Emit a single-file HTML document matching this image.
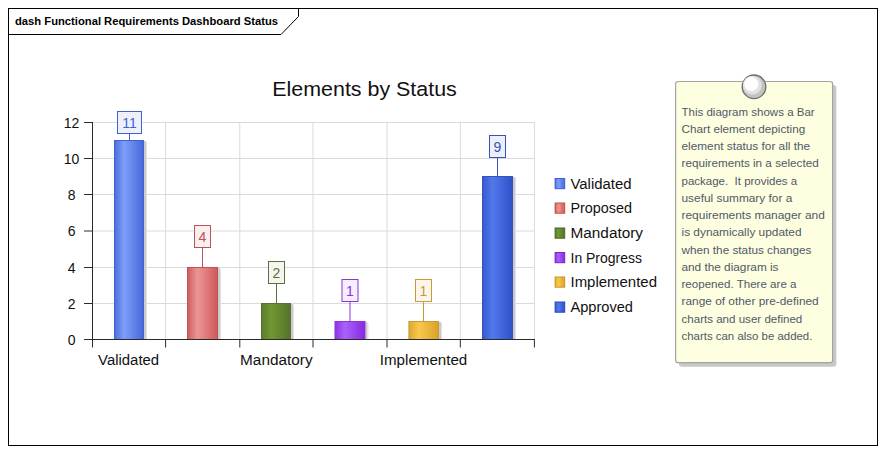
<!DOCTYPE html>
<html><head><meta charset="utf-8"><title>Elements by Status</title>
<style>html,body{margin:0;padding:0;background:#fff;overflow:hidden}svg{display:block}text{font-family:"Liberation Sans",sans-serif}</style>
</head><body>
<svg width="885" height="452" viewBox="0 0 885 452">
<defs>
<linearGradient id="gblue" x1="0" y1="0" x2="1" y2="0"><stop offset="0" stop-color="#4a6fe0"/><stop offset="0.33" stop-color="#7f9ef9"/><stop offset="1" stop-color="#4668db"/></linearGradient>
<linearGradient id="gred" x1="0" y1="0" x2="1" y2="0"><stop offset="0" stop-color="#cf5c5c"/><stop offset="0.33" stop-color="#eb9696"/><stop offset="1" stop-color="#cd5a5a"/></linearGradient>
<linearGradient id="ggreen" x1="0" y1="0" x2="1" y2="0"><stop offset="0" stop-color="#5b7c29"/><stop offset="0.33" stop-color="#739731"/><stop offset="1" stop-color="#54722c"/></linearGradient>
<linearGradient id="gpurple" x1="0" y1="0" x2="1" y2="0"><stop offset="0" stop-color="#8e32e6"/><stop offset="0.33" stop-color="#aa62fa"/><stop offset="1" stop-color="#862adf"/></linearGradient>
<linearGradient id="ggold" x1="0" y1="0" x2="1" y2="0"><stop offset="0" stop-color="#dfa62c"/><stop offset="0.33" stop-color="#f8c84e"/><stop offset="1" stop-color="#daa228"/></linearGradient>
<linearGradient id="gdblue" x1="0" y1="0" x2="1" y2="0"><stop offset="0" stop-color="#3558d0"/><stop offset="0.33" stop-color="#5279eb"/><stop offset="1" stop-color="#3051c9"/></linearGradient>
<radialGradient id="pin" cx="0.42" cy="0.36" r="0.62"><stop offset="0" stop-color="#ffffff"/><stop offset="0.45" stop-color="#f4f4f4"/><stop offset="0.75" stop-color="#d4d4d4"/><stop offset="1" stop-color="#b8b8b8"/></radialGradient>
<filter id="blur1" x="-10%" y="-10%" width="120%" height="120%"><feGaussianBlur stdDeviation="0.8"/></filter>
<filter id="blur2" x="-20%" y="-20%" width="140%" height="140%"><feGaussianBlur stdDeviation="0.5"/></filter>
<filter id="blur3" x="-30%" y="-30%" width="160%" height="160%"><feGaussianBlur stdDeviation="0.7"/></filter>
<filter id="blur4" x="-5%" y="-5%" width="110%" height="110%"><feGaussianBlur stdDeviation="0.4"/></filter>
</defs>
<rect width="885" height="452" fill="#ffffff"/>
<rect x="8.5" y="8.5" width="869" height="437" fill="none" stroke="#000" stroke-width="1"/>
<path d="M8.5 34.5 H281 L298.5 16.5 V8.5" fill="none" stroke="#000" stroke-width="1"/>
<text x="15" y="24.5" font-size="11" font-weight="bold" fill="#000" textLength="263" lengthAdjust="spacingAndGlyphs">dash Functional Requirements Dashboard Status</text>
<text x="272.3" y="95.7" font-size="20.5" fill="#111" textLength="184.5" lengthAdjust="spacingAndGlyphs">Elements by Status</text>
<line x1="165.6" y1="122" x2="165.6" y2="339.5" stroke="#dadada" stroke-width="1"/>
<line x1="239.8" y1="122" x2="239.8" y2="339.5" stroke="#dadada" stroke-width="1"/>
<line x1="313.0" y1="122" x2="313.0" y2="339.5" stroke="#dadada" stroke-width="1"/>
<line x1="387.0" y1="122" x2="387.0" y2="339.5" stroke="#dadada" stroke-width="1"/>
<line x1="460.3" y1="122" x2="460.3" y2="339.5" stroke="#dadada" stroke-width="1"/>
<line x1="534.4" y1="122" x2="534.4" y2="339.5" stroke="#dadada" stroke-width="1"/>
<line x1="92.5" y1="303.5" x2="534.9" y2="303.5" stroke="#dadada" stroke-width="1"/>
<line x1="92.5" y1="267.5" x2="534.9" y2="267.5" stroke="#dadada" stroke-width="1"/>
<line x1="92.5" y1="231.0" x2="534.9" y2="231.0" stroke="#dadada" stroke-width="1"/>
<line x1="92.5" y1="194.5" x2="534.9" y2="194.5" stroke="#dadada" stroke-width="1"/>
<line x1="92.5" y1="158.5" x2="534.9" y2="158.5" stroke="#dadada" stroke-width="1"/>
<line x1="92.5" y1="122.5" x2="534.9" y2="122.5" stroke="#dadada" stroke-width="1"/>
<rect x="144" y="141" width="2" height="198" fill="#cbcbcb"/>
<rect x="146" y="142" width="1" height="197" fill="#e2e2e2"/>
<rect x="114.5" y="140.5" width="29" height="199" fill="url(#gblue)" stroke="#3f62d2" stroke-width="1"/>
<line x1="129.5" y1="134" x2="129.5" y2="140" stroke="#3f62d2" stroke-width="1"/>
<rect x="117.5" y="111.5" width="24" height="22" fill="#eef1fc" stroke="#3f62d2" stroke-width="1"/>
<text x="129.5" y="128" font-size="14" fill="#3f62d2" text-anchor="middle">11</text>
<rect x="218" y="268" width="2" height="71" fill="#cbcbcb"/>
<rect x="220" y="269" width="1" height="70" fill="#e2e2e2"/>
<rect x="187.5" y="267.5" width="30" height="72" fill="url(#gred)" stroke="#c0505a" stroke-width="1"/>
<line x1="202.5" y1="248" x2="202.5" y2="267" stroke="#c0505a" stroke-width="1"/>
<rect x="194.5" y="225.5" width="16" height="22" fill="#f9efef" stroke="#c0505a" stroke-width="1"/>
<text x="202.5" y="242" font-size="14" fill="#c0505a" text-anchor="middle">4</text>
<rect x="291" y="304" width="2" height="35" fill="#cbcbcb"/>
<rect x="293" y="305" width="1" height="34" fill="#e2e2e2"/>
<rect x="261.5" y="303.5" width="29" height="36" fill="url(#ggreen)" stroke="#5c6f44" stroke-width="1"/>
<line x1="276.5" y1="284" x2="276.5" y2="303" stroke="#5c6f44" stroke-width="1"/>
<rect x="268.5" y="261.5" width="16" height="22" fill="#f3f6ed" stroke="#5c6f44" stroke-width="1"/>
<text x="276.5" y="278" font-size="14" fill="#5c6f44" text-anchor="middle">2</text>
<rect x="365.5" y="322" width="2" height="17" fill="#cbcbcb"/>
<rect x="367.5" y="323" width="1" height="16" fill="#e2e2e2"/>
<rect x="335.0" y="321.5" width="30.0" height="18" fill="url(#gpurple)" stroke="#8a35d8" stroke-width="1"/>
<line x1="350.0" y1="302" x2="350.0" y2="321" stroke="#8a35d8" stroke-width="1"/>
<rect x="342.0" y="279.5" width="16" height="22" fill="#f5eefc" stroke="#8a35d8" stroke-width="1"/>
<text x="350.0" y="296" font-size="14" fill="#8a35d8" text-anchor="middle">1</text>
<rect x="439" y="322" width="2" height="17" fill="#cbcbcb"/>
<rect x="441" y="323" width="1" height="16" fill="#e2e2e2"/>
<rect x="408.9" y="321.5" width="29.600000000000023" height="18" fill="url(#ggold)" stroke="#c99a3a" stroke-width="1"/>
<line x1="423.5" y1="302" x2="423.5" y2="321" stroke="#c99a3a" stroke-width="1"/>
<rect x="415.5" y="279.5" width="16" height="22" fill="#fcf6e8" stroke="#c99a3a" stroke-width="1"/>
<text x="423.5" y="296" font-size="14" fill="#c99a3a" text-anchor="middle">1</text>
<rect x="513" y="177" width="2" height="162" fill="#cbcbcb"/>
<rect x="515" y="178" width="1" height="161" fill="#e2e2e2"/>
<rect x="482.5" y="176.5" width="30" height="163" fill="url(#gdblue)" stroke="#3553b8" stroke-width="1"/>
<line x1="497.5" y1="158" x2="497.5" y2="176" stroke="#3553b8" stroke-width="1"/>
<rect x="489.5" y="135.5" width="16" height="22" fill="#edf0fa" stroke="#3553b8" stroke-width="1"/>
<text x="497.5" y="152" font-size="14" fill="#3553b8" text-anchor="middle">9</text>
<line x1="92.5" y1="122" x2="92.5" y2="347.5" stroke="#2a2a2a" stroke-width="1"/>
<line x1="84" y1="339.5" x2="534.9" y2="339.5" stroke="#2a2a2a" stroke-width="1"/>
<line x1="165.6" y1="339.5" x2="165.6" y2="347.5" stroke="#2a2a2a" stroke-width="1"/>
<line x1="239.8" y1="339.5" x2="239.8" y2="347.5" stroke="#2a2a2a" stroke-width="1"/>
<line x1="313.0" y1="339.5" x2="313.0" y2="347.5" stroke="#2a2a2a" stroke-width="1"/>
<line x1="387.0" y1="339.5" x2="387.0" y2="347.5" stroke="#2a2a2a" stroke-width="1"/>
<line x1="460.3" y1="339.5" x2="460.3" y2="347.5" stroke="#2a2a2a" stroke-width="1"/>
<line x1="534.4" y1="339.5" x2="534.4" y2="347.5" stroke="#2a2a2a" stroke-width="1"/>
<line x1="84" y1="303.5" x2="92.5" y2="303.5" stroke="#2a2a2a" stroke-width="1"/>
<text x="71.6" y="308.5" font-size="14" fill="#111" text-anchor="middle">2</text>
<line x1="84" y1="267.5" x2="92.5" y2="267.5" stroke="#2a2a2a" stroke-width="1"/>
<text x="71.6" y="272.5" font-size="14" fill="#111" text-anchor="middle">4</text>
<line x1="84" y1="231.0" x2="92.5" y2="231.0" stroke="#2a2a2a" stroke-width="1"/>
<text x="71.6" y="235.5" font-size="14" fill="#111" text-anchor="middle">6</text>
<line x1="84" y1="194.5" x2="92.5" y2="194.5" stroke="#2a2a2a" stroke-width="1"/>
<text x="71.6" y="199.5" font-size="14" fill="#111" text-anchor="middle">8</text>
<line x1="84" y1="158.5" x2="92.5" y2="158.5" stroke="#2a2a2a" stroke-width="1"/>
<text x="71.6" y="163.5" font-size="14" fill="#111" text-anchor="middle">10</text>
<line x1="84" y1="122.5" x2="92.5" y2="122.5" stroke="#2a2a2a" stroke-width="1"/>
<text x="71.6" y="127.5" font-size="14" fill="#111" text-anchor="middle">12</text>
<text x="71.6" y="344.5" font-size="14" fill="#111" text-anchor="middle">0</text>
<text x="98.1" y="365" font-size="14" fill="#111" textLength="61" lengthAdjust="spacingAndGlyphs">Validated</text>
<text x="240.1" y="365" font-size="14" fill="#111" textLength="72.5" lengthAdjust="spacingAndGlyphs">Mandatory</text>
<text x="379.8" y="365" font-size="14" fill="#111" textLength="87.5" lengthAdjust="spacingAndGlyphs">Implemented</text>
<rect x="555.1" y="178.5" width="9.6" height="10.2" fill="url(#gblue)" stroke="#3c5fd4" stroke-width="1"/>
<text x="570.5" y="188.5" font-size="14" fill="#111" textLength="61" lengthAdjust="spacingAndGlyphs">Validated</text>
<rect x="555.1" y="203.0" width="9.6" height="10.2" fill="url(#gred)" stroke="#c24e4e" stroke-width="1"/>
<text x="570.5" y="213.0" font-size="14" fill="#111" textLength="61.5" lengthAdjust="spacingAndGlyphs">Proposed</text>
<rect x="555.1" y="228.0" width="9.6" height="10.2" fill="url(#ggreen)" stroke="#4b6623" stroke-width="1"/>
<text x="570.5" y="238.0" font-size="14" fill="#111" textLength="72.5" lengthAdjust="spacingAndGlyphs">Mandatory</text>
<rect x="555.1" y="252.5" width="9.6" height="10.2" fill="url(#gpurple)" stroke="#7a22d2" stroke-width="1"/>
<text x="570.5" y="262.5" font-size="14" fill="#111" textLength="71.5" lengthAdjust="spacingAndGlyphs">In Progress</text>
<rect x="555.1" y="277.0" width="9.6" height="10.2" fill="url(#ggold)" stroke="#cd9722" stroke-width="1"/>
<text x="570.5" y="287.0" font-size="14" fill="#111" textLength="86.5" lengthAdjust="spacingAndGlyphs">Implemented</text>
<rect x="555.1" y="302.0" width="9.6" height="10.2" fill="url(#gdblue)" stroke="#2a49bb" stroke-width="1"/>
<text x="570.5" y="312.0" font-size="14" fill="#111" textLength="62.5" lengthAdjust="spacingAndGlyphs">Approved</text>
<rect x="679" y="85" width="157.4" height="281.8" rx="3" fill="#c8c8c8" filter="url(#blur4)"/>
<rect x="675.6" y="81.5" width="157" height="281.2" rx="2.5" fill="#fefee1" stroke="#a4a4a4" stroke-width="1.2"/>
<circle cx="754" cy="86.8" r="11.8" fill="#c3c3c3" stroke="#6c6c6c" stroke-width="1.3"/>
<circle cx="752.3" cy="85.2" r="9.4" fill="#e2e2e2" filter="url(#blur2)"/>
<circle cx="751.3" cy="84.1" r="7" fill="#ffffff" filter="url(#blur3)"/>
<text x="681.5" y="115.70" font-size="11" fill="#505a66" xml:space="preserve" textLength="133.2" lengthAdjust="spacingAndGlyphs">This diagram shows a Bar</text>
<text x="681.5" y="132.95" font-size="11" fill="#505a66" xml:space="preserve" textLength="123.7" lengthAdjust="spacingAndGlyphs">Chart element depicting</text>
<text x="681.5" y="150.20" font-size="11" fill="#505a66" xml:space="preserve" textLength="128.6" lengthAdjust="spacingAndGlyphs">element status for all the</text>
<text x="681.5" y="167.45" font-size="11" fill="#505a66" xml:space="preserve" textLength="137.2" lengthAdjust="spacingAndGlyphs">requirements in a selected</text>
<text x="681.5" y="184.70" font-size="11" fill="#505a66" xml:space="preserve" textLength="115.7" lengthAdjust="spacingAndGlyphs">package.  It provides a</text>
<text x="681.5" y="201.95" font-size="11" fill="#505a66" xml:space="preserve" textLength="110.8" lengthAdjust="spacingAndGlyphs">useful summary for a</text>
<text x="681.5" y="219.20" font-size="11" fill="#505a66" xml:space="preserve" textLength="143.3" lengthAdjust="spacingAndGlyphs">requirements manager and</text>
<text x="681.5" y="236.45" font-size="11" fill="#505a66" xml:space="preserve" textLength="120" lengthAdjust="spacingAndGlyphs">is dynamically updated</text>
<text x="681.5" y="253.70" font-size="11" fill="#505a66" xml:space="preserve" textLength="130" lengthAdjust="spacingAndGlyphs">when the status changes</text>
<text x="681.5" y="270.95" font-size="11" fill="#505a66" xml:space="preserve" textLength="97" lengthAdjust="spacingAndGlyphs">and the diagram is</text>
<text x="681.5" y="288.20" font-size="11" fill="#505a66" xml:space="preserve" textLength="115" lengthAdjust="spacingAndGlyphs">reopened. There are a</text>
<text x="681.5" y="305.45" font-size="11" fill="#505a66" xml:space="preserve" textLength="137.2" lengthAdjust="spacingAndGlyphs">range of other pre-defined</text>
<text x="681.5" y="322.70" font-size="11" fill="#505a66" xml:space="preserve" textLength="120.8" lengthAdjust="spacingAndGlyphs">charts and user defined</text>
<text x="681.5" y="339.95" font-size="11" fill="#505a66" xml:space="preserve" textLength="130.9" lengthAdjust="spacingAndGlyphs">charts can also be added.</text>
</svg></body></html>
